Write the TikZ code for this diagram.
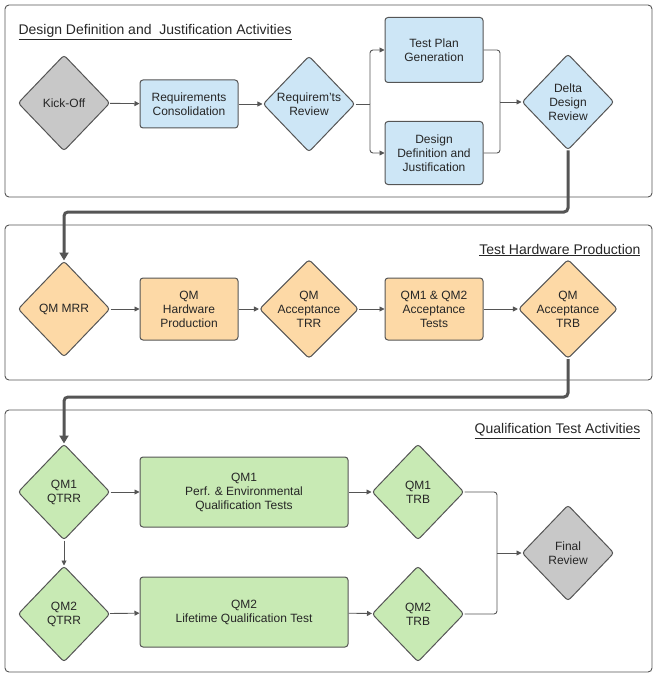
\documentclass[tikz,border=0pt]{standalone}
\usepackage{fontspec}
\setmainfont{Liberation Sans}
\usetikzlibrary{shapes.geometric,arrows.meta}
\definecolor{cb}{HTML}{CDE6F6}
\definecolor{co}{HTML}{FDD9A6}
\definecolor{cg}{HTML}{C8EAB4}
\definecolor{cgr}{HTML}{C8C8C8}
\definecolor{ln}{HTML}{555555}
\begin{document}
\begin{tikzpicture}[x=1pt,y=-1pt,
 every node/.style={font=\fontsize{12}{14}\selectfont,align=center,text=black!85},
 panel/.style={draw=ln,line width=0.9pt,rounded corners=4pt},
 box/.style={draw=ln,line width=1pt,rounded corners=3pt,minimum width=98pt,minimum height=#1,inner sep=2pt},
 box/.default=50pt,
 dia/.style={draw=ln,line width=1pt,diamond,minimum width=92pt,minimum height=96pt,inner sep=0pt,rounded corners=3pt},
 arr/.style={draw=ln,line width=0.9pt,-{Triangle[length=5pt,width=5pt]}},
 ln/.style={draw=ln,line width=0.9pt},
 big/.style={draw=ln,line width=3pt,-{Triangle[length=8pt,width=9pt]}},
 ttl/.style={font=\fontsize{14}{16}\selectfont}]
\useasboundingbox (0,0) rectangle (659,679);
\draw[panel] (5,5) rectangle (652,197);
\draw[panel] (5,225) rectangle (652,380);
\draw[panel] (5,410) rectangle (652,672);
\node[ttl,anchor=west] (t1) at (15,32) {\underline{Design Definition and\ \ Justification Activities}};
\node[ttl,anchor=east] (t2) at (644,250) {\underline{Test Hardware Production}};
\node[ttl,anchor=east] (t3) at (644,431) {\underline{Qualification Test Activities}};
% row 1
\node[dia,fill=cgr] (ko) at (64,103) {Kick-Off};
\node[box=48pt,fill=cb] (rc) at (189,104) {Requirements\\Consolidation};
\node[dia,fill=cb] (rr) at (309,104) {Requirem'ts\\Review};
\node[box=65pt,fill=cb] (tp) at (434,50) {Test Plan\\Generation};
\node[box=63pt,fill=cb] (dd) at (434,153) {Design\\Definition and\\Justification};
\node[dia,fill=cb] (ddr) at (568,102) {Delta\\Design\\Review};
\draw[arr] (ko) -- (rc);
\draw[arr] (rc) -- (rr);
\coordinate (s1) at (370,104);
\draw[ln,rounded corners=3pt] (rr.east) -- (s1);
\draw[arr,rounded corners=3pt] (s1) |- (tp.west);
\draw[arr,rounded corners=3pt] (s1) |- (dd.west);
\coordinate (m1) at (500,102);
\draw[ln,rounded corners=3pt] (tp.east) -| (m1);
\draw[ln,rounded corners=3pt] (dd.east) -| (m1);
\draw[arr] (m1) -- (ddr.west);
% row 2
\node[dia,fill=co] (mrr) at (64,309) {QM MRR};
\node[box=62pt,fill=co] (hp) at (189,309) {QM\\Hardware\\Production};
\node[dia,fill=co] (atrr) at (309,309) {QM\\Acceptance\\TRR};
\node[box=62pt,fill=co] (at) at (434,309) {QM1 \& QM2\\Acceptance\\Tests};
\node[dia,fill=co] (atrb) at (568,309) {QM\\Acceptance\\TRB};
\draw[big,rounded corners=4pt] (ddr.south) -- (568,212) -| (mrr.north);
\draw[arr] (mrr) -- (hp);
\draw[arr] (hp) -- (atrr);
\draw[arr] (atrr) -- (at);
\draw[arr] (at) -- (atrb);
% row 3
\node[dia,fill=cg] (q1) at (64,492) {QM1\\QTRR};
\node[box=70pt,fill=cg,minimum width=208pt] (t1b) at (244,492) {QM1\\Perf. \& Environmental\\Qualification Tests};
\node[dia,fill=cg] (trb1) at (418,492) {QM1\\TRB};
\node[dia,fill=cg] (q2) at (64,614) {QM2\\QTRR};
\node[box=70pt,fill=cg,minimum width=208pt] (t2b) at (244,612) {QM2\\Lifetime Qualification Test};
\node[dia,fill=cg] (trb2) at (418,614) {QM2\\TRB};
\node[dia,fill=cgr] (fr) at (568,553) {Final\\Review};
\draw[big,rounded corners=4pt] (atrb.south) -- (568,397) -| (q1.north);
\draw[arr] (q1) -- (t1b);
\draw[arr] (t1b) -- (trb1);
\draw[arr] (q2) -- (t2b);
\draw[arr] (t2b) -- (trb2);
\draw[arr] (q1.south) -- (q2.north);
\coordinate (m2) at (497,553);
\draw[ln,rounded corners=3pt] (trb1.east) -| (m2);
\draw[ln,rounded corners=3pt] (trb2.east) -| (m2);
\draw[arr] (m2) -- (fr.west);
\end{tikzpicture}
\end{document}
